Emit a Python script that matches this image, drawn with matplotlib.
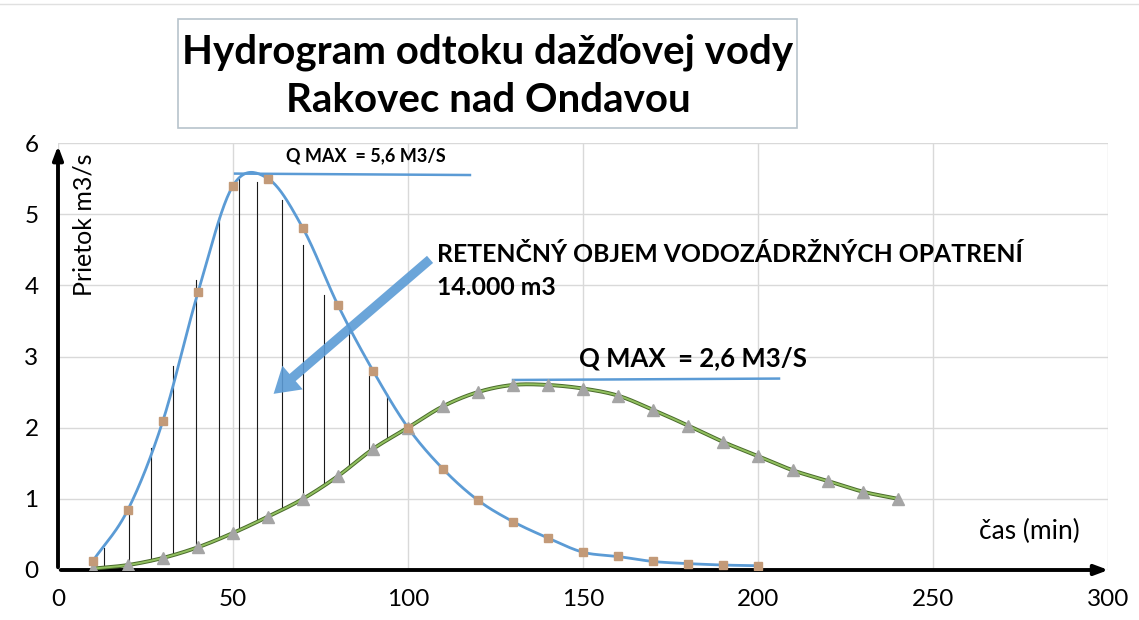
import numpy as np
import matplotlib
matplotlib.use("Agg")
import matplotlib.pyplot as plt
import matplotlib.patheffects as pe
from matplotlib.patches import Rectangle, FancyArrowPatch

plt.rcParams['font.family'] = ['Lato', 'DejaVu Sans']

# data
t_in = [10, 20, 30, 40, 50, 60, 70, 80, 90, 100, 110, 120, 130, 140, 150, 160, 170, 180, 190, 200]
q_in = [0.13, 0.85, 2.1, 3.9, 5.4, 5.5, 4.8, 3.72, 2.8, 2.0, 1.42, 0.98, 0.68, 0.45, 0.25, 0.19, 0.12, 0.09, 0.07, 0.06]

t_out = [10, 20, 30, 40, 50, 60, 70, 80, 90, 100, 110, 120, 130, 140, 150, 160, 170, 180, 190, 200, 210, 220, 230, 240]
q_out = [0.02, 0.07, 0.17, 0.32, 0.52, 0.75, 1.0, 1.32, 1.7, 2.0, 2.3, 2.5, 2.6, 2.6, 2.55, 2.45, 2.25, 2.03, 1.8, 1.6, 1.4, 1.25, 1.1, 1.0]

# hatch lines (retention volume)
hatch_t = [13, 20.2, 26.5, 32.8, 39.3, 45.9, 51.6, 56.9, 64, 70, 76, 83, 88.9, 94]
hatch_top = [0.31, 0.85, 1.71, 2.87, 4.08, 4.96, 5.5, 5.45, 5.2, 4.56, 3.86, 3.4, 2.73, 2.47]

xticks = [0, 50, 100, 150, 200, 250, 300]
yticks = [0, 1, 2, 3, 4, 5, 6]

BLUE = '#5b9bd5'


def smooth(x, y, n=24):
    # catmull-rom, roughly like excel's smoothed line
    x = np.asarray(x, float)
    y = np.asarray(y, float)
    px = np.concatenate([[2 * x[0] - x[1]], x, [2 * x[-1] - x[-2]]])
    py = np.concatenate([[2 * y[0] - y[1]], y, [2 * y[-1] - y[-2]]])
    xs, ys = [], []
    s = np.linspace(0, 1, n, endpoint=False)
    for i in range(1, len(px) - 2):
        for arr, out in ((px, xs), (py, ys)):
            p0, p1, p2, p3 = arr[i - 1], arr[i], arr[i + 1], arr[i + 2]
            out.extend(0.5 * (2 * p1 + (-p0 + p2) * s + (2 * p0 - 5 * p1 + 4 * p2 - p3) * s ** 2
                              + (-p0 + 3 * p1 - 3 * p2 + p3) * s ** 3))
    xs.append(x[-1])
    ys.append(y[-1])
    return np.array(xs), np.array(ys)


fig = plt.figure(figsize=(11.39, 6.2), dpi=100)
ax = fig.add_axes([58 / 1139, 50 / 620, 1050 / 1139, 427 / 620])
ax.set_xlim(0, 300)
ax.set_ylim(0, 6)
ax.set_xticks(xticks)
ax.set_yticks(yticks)
ax.tick_params(length=0, labelsize=17.5, pad=14)
ax.grid(color='#d9d9d9', lw=1)
ax.set_axisbelow(True)
for s in ax.spines.values():
    s.set_visible(False)

# axes with arrows
ax.annotate('', xy=(0, 1.0), xytext=(0, 0), xycoords='axes fraction',
            arrowprops=dict(arrowstyle='-|>,head_width=0.3,head_length=0.8', lw=2.8, color='black'))
ax.annotate('', xy=(1.003, 0), xytext=(0, 0), xycoords='axes fraction',
            arrowprops=dict(arrowstyle='-|>,head_width=0.3,head_length=0.8', lw=2.8, color='black'))

sx_out, sy_out = smooth(t_out, q_out)
sx_in, sy_in = smooth(t_in, q_in)

# hatching between the curves
for ht, top in zip(hatch_t, hatch_top):
    bot = np.interp(ht, sx_out, sy_out)
    ax.plot([ht, ht], [bot, top], color='#1a1a1a', lw=0.8, zorder=2)

ax.plot(sx_out, sy_out, color='#92c160', lw=1.4, zorder=3,
        path_effects=[pe.Stroke(linewidth=2.8, foreground='#4a6a2c'), pe.Normal()])
ax.plot(t_out, q_out, ls='none', marker='^', ms=9, color='#a5a5a5', zorder=4)

ax.plot(sx_in, sy_in, color=BLUE, lw=2, zorder=3)
ax.plot(t_in, q_in, ls='none', marker='s', ms=6, color='#c39a78', zorder=4)

# Q max lines
ax.plot([50.6, 117.7], [5.57, 5.55], color=BLUE, lw=1.8, zorder=3)
ax.text(88, 5.82, 'Q MAX  = 5,6 M3/S', fontsize=13, fontweight='bold', ha='center', va='center')
ax.plot([130, 206], [2.67, 2.69], color=BLUE, lw=1.8, zorder=3)
ax.text(181.5, 2.98, 'Q MAX  = 2,6 M3/S', fontsize=18.5, fontweight='bold', ha='center', va='center')

# retention arrow + text
ax.add_patch(FancyArrowPatch((106.9, 4.39), (61, 2.45),
                             arrowstyle='simple,head_width=1.5,head_length=1.2,tail_width=0.45',
                             mutation_scale=15, color=BLUE, alpha=0.9, lw=0, zorder=5))
ax.text(108.3, 4.2, 'RETENČNÝ OBJEM VODOZÁDRŽNÝCH OPATRENÍ\n14.000 m3', fontsize=17.8,
        fontweight='bold', ha='left', va='center', linespacing=1.5)

ax.text(7.3, 4.85, 'Prietok m3/s', rotation=90, fontsize=18, ha='center', va='center')
ax.text(277.5, 0.54, 'čas (min)', fontsize=19, ha='center', va='center')

# title box
fig.add_artist(Rectangle((178 / 1139, 1 - 128 / 620), 619 / 1139, 109 / 620, transform=fig.transFigure,
                         fill=False, ec='#b8c4cc', lw=1.2))
fig.text(488 / 1139, 1 - 52 / 620, 'Hydrogram odtoku dažďovej vody', fontsize=29, fontweight='bold',
         ha='center', va='center')
fig.text(488 / 1139, 1 - 101 / 620, 'Rakovec nad Ondavou', fontsize=29, fontweight='bold',
         ha='center', va='center')
fig.add_artist(plt.Line2D([0, 1], [1 - 4 / 620, 1 - 4 / 620], color='#e0e0e0', lw=1))

fig.savefig('out.png', dpi=100)
